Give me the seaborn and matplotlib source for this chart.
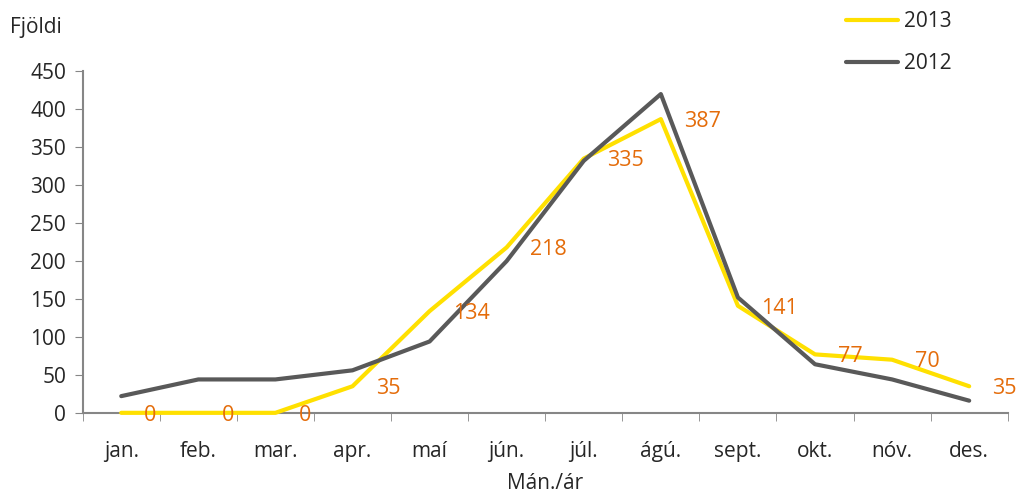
import numpy as np
import pandas as pd
import matplotlib.pyplot as plt
import seaborn as sns
from matplotlib.ticker import FixedLocator
from matplotlib.lines import Line2D

months = ['jan.', 'feb.', 'mar.', 'apr.', 'maí', 'jún.', 'júl.', 'ágú.', 'sept.', 'okt.', 'nóv.', 'des.']
vals_2013 = [0, 0, 0, 35, 134, 218, 335, 387, 141, 77, 70, 35]
vals_2012 = [22, 44, 44, 56, 94, 200, 332, 420, 152, 64, 44, 16]

sns.set_style("white")
plt.rcParams['font.family'] = ['Open Sans', 'DejaVu Sans']

df = pd.DataFrame({
    'x': list(range(12)) * 2,
    'val': vals_2013 + vals_2012,
    'year': ['2013'] * 12 + ['2012'] * 12,
})

fig = plt.figure(figsize=(10.21, 4.95), dpi=100)
ax = fig.add_axes([0.081, 0.166, 0.906, 0.69])

sns.lineplot(data=df, x='x', y='val', hue='year', hue_order=['2013', '2012'],
             palette={'2013': '#FFE000', '2012': '#595959'}, linewidth=3,
             ax=ax, legend=False)
for ln in ax.lines:
    ln.set_clip_on(False)
    ln.set_zorder(5)

for i, v in enumerate(vals_2013):
    ax.text(i + 0.3, v - 3, str(v), color='#E46C0A', fontsize=15.5, va='center', ha='left', zorder=6)

ax.set_xlim(-0.5, 11.5)
ax.set_ylim(0, 450)
ax.set_yticks(range(0, 451, 50))
ax.set_xticks(range(12))
ax.set_xticklabels(months)
ax.xaxis.set_minor_locator(FixedLocator(np.arange(-0.5, 12, 1)))
ax.tick_params(axis='x', which='major', length=0, pad=20, labelsize=15)
ax.tick_params(axis='x', which='minor', length=6, color='#868686', direction='out', bottom=True)
ax.tick_params(axis='y', length=6, color='#868686', direction='out', left=True, labelsize=15, pad=6)
for s in ['top', 'right']:
    ax.spines[s].set_visible(False)
for s in ['left', 'bottom']:
    ax.spines[s].set_color('#868686')
    ax.spines[s].set_linewidth(1.5)
ax.set_xlabel('Mán./ár', fontsize=15, labelpad=8)
ax.set_ylabel('')
fig.text(0.01, 0.945, 'Fjöldi', fontsize=15, va='center', ha='left')

handles = [Line2D([], [], color='#FFE000', lw=3), Line2D([], [], color='#595959', lw=3)]
fig.legend(handles, ['2013', '2012'], loc='upper left', bbox_to_anchor=(0.81, 1.015),
           frameon=False, fontsize=15, handlelength=2.5, labelspacing=1.0, handletextpad=0.3)

fig.savefig('out.png', dpi=100)
